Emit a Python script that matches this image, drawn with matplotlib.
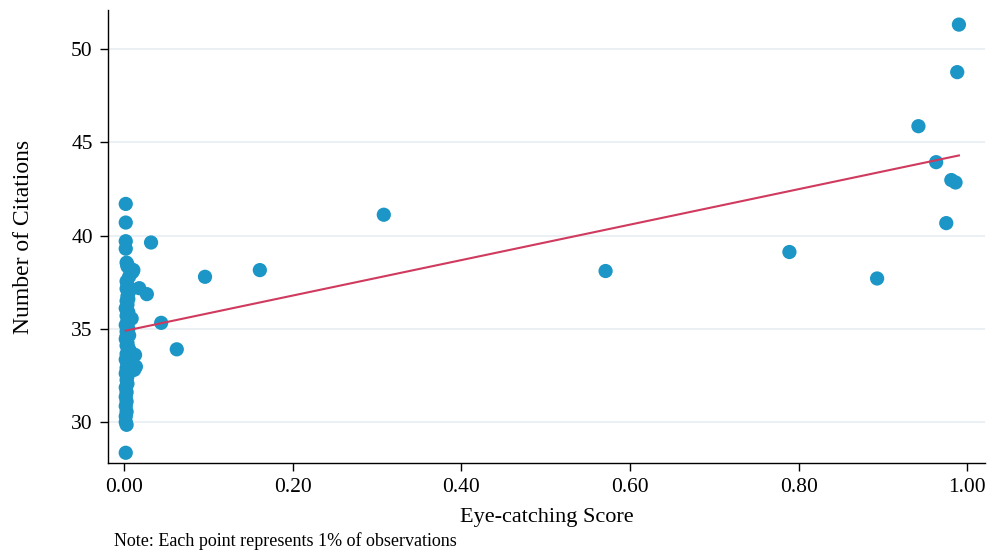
import numpy as np
import matplotlib.pyplot as plt

plt.rcParams['font.family'] = ['Liberation Serif', 'DejaVu Serif']

# binned scatter: each point is one percentile bin
score_low = [0.002, 0.002, 0.002, 0.002, 0.003, 0.004, 0.008, 0.010, 0.006, 0.003,
             0.004, 0.003, 0.005, 0.004, 0.003, 0.004, 0.002, 0.005, 0.003, 0.009,
             0.004, 0.002, 0.005, 0.003, 0.006, 0.002, 0.004, 0.003, 0.005, 0.007,
             0.003, 0.004, 0.002, 0.006, 0.004, 0.003, 0.008, 0.002, 0.004, 0.003,
             0.004, 0.002, 0.003, 0.002, 0.003, 0.002, 0.003, 0.002, 0.002, 0.003,
             0.002, 0.011, 0.013, 0.014, 0.012, 0.018, 0.027, 0.005, 0.004, 0.006,
             0.003, 0.005, 0.004, 0.003, 0.006, 0.004]
cites_low = [41.70, 40.70, 39.70, 39.30, 38.55, 38.35, 38.20, 38.05, 37.80, 37.55,
             37.35, 37.15, 36.95, 36.75, 36.50, 36.30, 36.10, 35.90, 35.70, 35.55,
             35.40, 35.20, 35.00, 34.85, 34.65, 34.45, 34.25, 34.10, 33.95, 33.80,
             33.65, 33.50, 33.35, 33.20, 33.05, 32.90, 32.75, 32.60, 32.45, 32.25,
             32.05, 31.85, 31.60, 31.35, 31.10, 30.85, 30.55, 30.30, 30.00, 29.85,
             28.35, 38.15, 33.60, 32.97, 32.80, 37.18, 36.86, 34.00, 33.40, 33.10,
             32.70, 36.60, 35.10, 34.60, 37.00, 38.45]

score_high = [0.032, 0.044, 0.0625, 0.096, 0.161, 0.308, 0.571, 0.789, 0.893,
              0.942, 0.963, 0.975, 0.981, 0.986, 0.988, 0.990]
cites_high = [39.63, 35.32, 33.90, 37.79, 38.15, 41.12, 38.10, 39.12, 37.70,
              45.87, 43.94, 40.67, 42.98, 42.85, 48.77, 51.32]

# fitted line endpoints
fit_x = [0.002, 0.990]
fit_y = [34.90, 44.30]

x = np.array(score_low + score_high)
y = np.array(cites_low + cites_high)

fig = plt.figure(figsize=(9.94, 5.59), dpi=100)
ax = fig.add_axes([0.1087, 0.1717, 0.8823, 0.8103])

ax.scatter(x, y, s=105, color='#1b96c6', edgecolors='none', zorder=3)
ax.plot(fit_x, fit_y, color='#cf3a5e', lw=1.5, zorder=4)

ax.set_xlim(-0.019, 1.021)
ax.set_ylim(27.8, 52.1)
ax.set_xticks([0, 0.2, 0.4, 0.6, 0.8, 1.0])
ax.set_xticklabels(['0.00', '0.20', '0.40', '0.60', '0.80', '1.00'])
ax.set_yticks([30, 35, 40, 45, 50])
ax.grid(axis='y', color='#e6edf1', lw=1.2, zorder=0)
ax.set_axisbelow(True)

for side in ['top', 'right']:
    ax.spines[side].set_visible(False)
for side in ['left', 'bottom']:
    ax.spines[side].set_linewidth(1.0)
ax.tick_params(labelsize=15.5, length=6, width=1.0, direction='out', pad=5)

ax.set_xlabel('Eye-catching Score', fontsize=16)
ax.set_ylabel('Number of Citations', fontsize=17)
ax.xaxis.set_label_coords(0.5, -0.099)
ax.yaxis.set_label_coords(-0.085, 0.5)

fig.text(0.115, 0.023, 'Note: Each point represents 1% of observations', fontsize=13)

fig.savefig('out.png', dpi=100)
